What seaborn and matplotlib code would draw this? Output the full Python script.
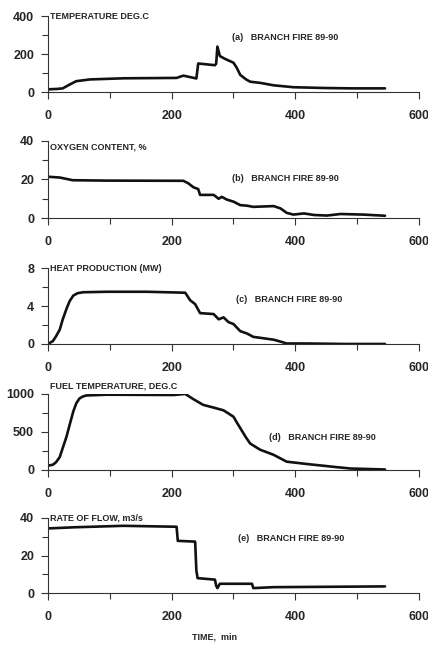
import numpy as np
import pandas as pd
import seaborn as sns
import matplotlib.pyplot as plt
from matplotlib.ticker import MultipleLocator

# time axis (min) and series
temp_t = [0, 15, 24, 35, 46, 68, 122, 208, 219, 236, 240, 243, 270, 272, 274, 278, 286, 300,
          305, 311, 320, 327, 343, 365, 397, 446, 489, 545]
temp_v = [15, 17, 20, 40, 58, 67, 73, 75, 87, 75, 72, 151, 142, 150, 240, 190, 176, 155,
          130, 91, 68, 55, 49, 36, 26, 22, 20, 20]

oxy_t = [0, 19, 40, 95, 219, 227, 235, 243, 246, 268, 276, 281, 289, 300, 311, 322, 332,
         365, 376, 386, 397, 414, 430, 451, 473, 510, 545]
oxy_v = [21.4, 21, 19.6, 19.4, 19.3, 18, 16, 15, 12, 12, 10, 11, 9.6, 8.5, 6.7, 6.4, 5.8,
         6.2, 5, 2.7, 1.8, 2.4, 1.6, 1.3, 2.1, 1.8, 1.2]

heat_t = [0, 8, 13, 19, 24, 30, 35, 41, 48, 57, 95, 160, 222, 230, 238, 246, 268, 276, 284,
          292, 300, 311, 322, 332, 365, 376, 386, 420, 480, 545]
heat_v = [0, 0.3, 0.8, 1.5, 2.6, 3.7, 4.5, 5.1, 5.35, 5.45, 5.5, 5.5, 5.4, 4.6, 4.2, 3.25,
          3.15, 2.6, 2.8, 2.3, 2.1, 1.35, 1.1, 0.75, 0.45, 0.25, 0.05, 0.05, 0.0, 0.0]

fuel_t = [0, 8, 13, 19, 24, 30, 36, 41, 46, 51, 56, 62, 95, 203, 222, 235, 251, 268, 284,
          300, 305, 311, 320, 327, 343, 365, 386, 419, 462, 489, 545]
fuel_v = [55, 68, 100, 167, 290, 437, 620, 770, 880, 940, 965, 980, 990, 986, 1000, 932,
          856, 820, 784, 700, 630, 550, 430, 347, 266, 198, 108, 77, 40, 18, 5]

flow_t = [0, 41, 122, 208, 210, 238, 240, 242, 270, 272, 274, 278, 330, 332, 365, 545]
flow_v = [34.4, 35, 35.8, 35.3, 27.8, 27.4, 12, 8, 7.2, 4, 2.7, 5, 5, 2.7, 3.2, 3.6]

panels = [
    ("(a)", "TEMPERATURE DEG.C", temp_t, temp_v, 400, 100),
    ("(b)", "OXYGEN CONTENT, %", oxy_t, oxy_v, 40, 10),
    ("(c)", "HEAT PRODUCTION (MW)", heat_t, heat_v, 8, 2),
    ("(d)", "FUEL TEMPERATURE, DEG.C", fuel_t, fuel_v, 1000, 250),
    ("(e)", "RATE OF FLOW, m3/s", flow_t, flow_v, 40, 10),
]
caption = "BRANCH FIRE 89-90"

sns.set_style("ticks")
plt.rcParams['font.family'] = ['Liberation Sans Narrow', 'Liberation Sans', 'DejaVu Sans']

fig = plt.figure(figsize=(4.28, 6.49), dpi=100)

# axes boxes (left, bottom, width, height) in figure fractions
boxes = [
    (0.112, 0.858, 0.867, 0.117),
    (0.112, 0.664, 0.867, 0.119),
    (0.112, 0.470, 0.867, 0.117),
    (0.112, 0.276, 0.867, 0.117),
    (0.112, 0.086, 0.867, 0.116),
]
# where the "(x) BRANCH FIRE" note and the quantity name sit (axes fraction)
note_pos = [(0.495, 0.72), (0.495, 0.51), (0.508, 0.58), (0.597, 0.42), (0.512, 0.73)]
name_pos = [1.0, 0.92, 1.0, 1.1, 1.0]

for i, (tag, name, t, v, ytop, ystep) in enumerate(panels):
    ax = fig.add_axes(boxes[i])
    df = pd.DataFrame({"t": t, "v": v})
    sns.lineplot(data=df, x="t", y="v", ax=ax, color="#111111", lw=1.9)
    ax.set_xlim(0, 600)
    ax.set_ylim(0, ytop)
    ax.set_xlabel("")
    ax.set_ylabel("")
    for s in ["top", "right"]:
        ax.spines[s].set_visible(False)
    for s in ["left", "bottom"]:
        ax.spines[s].set_linewidth(0.8)
        ax.spines[s].set_color("#333333")
    ax.xaxis.set_major_locator(MultipleLocator(200))
    ax.xaxis.set_minor_locator(MultipleLocator(100))
    ax.yaxis.set_major_locator(MultipleLocator(ytop / 2))
    ax.yaxis.set_minor_locator(MultipleLocator(ystep))
    ax.tick_params(axis="both", which="major", length=5, width=0.8, color="#333333",
                   labelsize=9)
    ax.tick_params(axis="both", which="minor", length=4, width=0.8, color="#333333")
    ax.tick_params(axis="x", pad=8)
    ax.tick_params(axis="y", pad=5)
    for lab in ax.get_xticklabels() + ax.get_yticklabels():
        lab.set_fontweight("bold")
    ax.text(0.006, name_pos[i], name, transform=ax.transAxes, fontsize=6.5,
            fontweight="bold", ha="left", va="center")
    ax.text(note_pos[i][0], note_pos[i][1], f"{tag}   {caption}", transform=ax.transAxes,
            fontsize=6.5, fontweight="bold", ha="left", va="center")

fig.text(0.50, 0.018, "TIME,  min", fontsize=6.5, fontweight="bold", ha="center",
         va="center")

plt.savefig("out.png", dpi=100)
